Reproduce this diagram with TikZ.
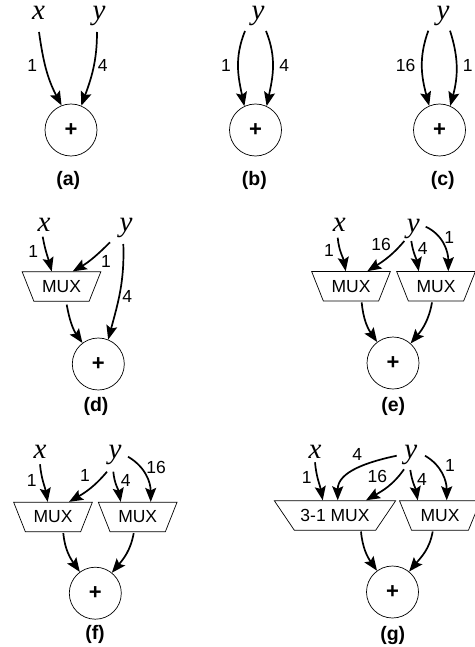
\documentclass[tikz,border=0pt]{standalone}
\usepackage{fontspec}
\setmainfont{Liberation Sans}
\newfontfamily\varfont{Liberation Serif}
\usetikzlibrary{arrows.meta,shapes.geometric}
\tikzset{
  var/.style={inner sep=0pt, text height=16.5pt, text depth=0pt, font=\fontsize{29}{30}\selectfont\varfont\itshape},
  adder/.style={circle, draw, line width=0.7pt, minimum size=52pt, inner sep=0pt, font=\fontsize{22}{24}\selectfont\bfseries},
  mux/.style={trapezium, draw, line width=0.7pt, trapezium stretches=true, shape border rotate=180,
    trapezium angle=56, minimum width=79pt, minimum height=29.5pt, inner ysep=0pt, inner xsep=0pt, font=\fontsize{17.5}{19}\selectfont},
  bigmux/.style={mux, trapezium angle=43.6, minimum width=122pt, inner xsep=-8pt},
  weight/.style={inner sep=0pt, font=\fontsize{17.5}{19}\selectfont},
  caption/.style={inner sep=0pt, font=\fontsize{19.5}{21}\selectfont\bfseries},
  edge/.style={line width=1.7pt, -{Stealth[length=14pt,width=11pt,inset=2.5pt]}}
}
\begin{document}
\begin{tikzpicture}[x=1pt, y=1pt]
  \useasboundingbox (0,0) rectangle (474,-647);

  % Panel a
  \node[var] (xa) at (38.5,-11) {x};
  \node[var] (ya) at (99,-11) {y};
  \node[adder] (adda) at (71,-130) {+};
  \node[weight] (wa1) at (32.3,-65) {1};
  \node[weight] (wa2) at (102.7,-65) {4};
  \node[caption] (capa) at (68.3,-180) {(a)};
  \draw[edge] ([shift={(0.5,-21)}]xa.center) to[out=-82, in=118] (adda.111);
  \draw[edge] ([shift={(-2,-21)}]ya.center) to[out=-90, in=70] (adda.67);

  % Panel b
  \node[var] (yb) at (258,-11) {y};
  \node[adder] (addb) at (255.5,-130) {+};
  \node[weight] (wb1) at (226,-65) {1};
  \node[weight] (wb2) at (284.3,-65) {4};
  \node[caption] (capb) at (254.3,-180) {(b)};
  \draw[edge] ([shift={(-13,-20)}]yb.center) to[out=-112, in=102] (addb.115);
  \draw[edge] ([shift={(8,-20)}]yb.center) to[out=-68, in=78] (addb.65);

  % Panel c
  \node[var] (yc) at (443,-11) {y};
  \node[adder] (addc) at (439.5,-130) {+};
  \node[weight] (wc1) at (405.7,-65) {16};
  \node[weight] (wc2) at (467.7,-65) {1};
  \node[caption] (capc) at (442.7,-180) {(c)};
  \draw[edge] ([shift={(-14.7,-19.7)}]yc.center) to[out=-110, in=105] (addc.113);
  \draw[edge] ([shift={(7,-19.7)}]yc.center) to[out=-72, in=75] (addc.66);

  % Panel d
  \node[var] (xd) at (44,-223) {x};
  \node[var] (yd) at (126,-223) {y};
  \node[mux] (muxd) at (61.5,-286.5) {MUX};
  \node[adder] (addd) at (98.3,-364) {+};
  \node[weight] (wd1) at (33.3,-251.7) {1};
  \node[weight] (wd2) at (106,-261.7) {1};
  \node[weight] (wd3) at (127.3,-296) {4};
  \node[caption] (capd) at (96,-406.7) {(d)};
  \draw[edge] ([shift={(-1.3,-13.7)}]xd.center) to[out=-80, in=105] ([xshift=-9.8pt]muxd.north);
  \draw[edge] ([shift={(-16,-19.3)}]yd.center) to[out=-135, in=30] ([xshift=11.2pt]muxd.north);
  \draw[edge] ([shift={(-2.7,-21)}]yd.center) to[out=-88, in=75] (addd.68);
  \draw[edge] ([shift={(5.2,-3)}]muxd.south) to[out=-80, in=125] (addd.127);

  % Panel e
  \node[var] (xe) at (339.3,-223.3) {x};
  \node[var] (ye) at (413.3,-224) {y};
  \node[mux] (muxe1) at (351,-286.3) {MUX};
  \node[mux] (muxe2) at (436,-286.3) {MUX};
  \node[adder] (adde) at (393,-363) {+};
  \node[weight] (we1) at (329,-250) {1};
  \node[weight] (we2) at (381,-244.3) {16};
  \node[weight] (we3) at (422.7,-248.3) {4};
  \node[weight] (we4) at (449.3,-237.7) {1};
  \node[caption] (cape) at (393.3,-406.7) {(e)};
  \draw[edge] ([shift={(-1.6,-14.4)}]xe.center) to[out=-85, in=100] ([xshift=-5.3pt]muxe1.north);
  \draw[edge] ([shift={(-9,-17)}]ye.center) to[out=-130, in=32] ([xshift=16.3pt]muxe1.north);
  \draw[edge] ([shift={(-2,-17)}]ye.center) to[out=-82, in=100] ([xshift=-17.3pt]muxe2.north);
  \draw[edge] ([shift={(12.4,-2.7)}]ye.center) to[out=-25, in=90] ([xshift=12.3pt]muxe2.north);
  \draw[edge] ([shift={(10.7,-1)}]muxe1.south) to[out=-85, in=125] (adde.127);
  \draw[edge] ([shift={(-4,-1)}]muxe2.south) to[out=-100, in=50] (adde.48);

  % Panel f
  \node[var] (xf) at (40,-450) {x};
  \node[var] (yf) at (115,-450) {y};
  \node[mux] (muxf1) at (53,-517) {MUX};
  \node[mux] (muxf2) at (137.7,-517) {MUX};
  \node[adder] (addf) at (95.3,-593.2) {+};
  \node[weight] (wf1) at (31.7,-480) {1};
  \node[weight] (wf2) at (85,-475.7) {1};
  \node[weight] (wf3) at (125.7,-480) {4};
  \node[weight] (wf4) at (156,-467.3) {16};
  \node[caption] (capf) at (95,-634) {(f)};
  \draw[edge] ([shift={(0,-14.3)}]xf.center) to[out=-85, in=100] ([xshift=-5.3pt]muxf1.north);
  \draw[edge] ([shift={(-8,-21.7)}]yf.center) to[out=-130, in=30] ([xshift=16pt]muxf1.north);
  \draw[edge] ([shift={(-1.7,-21.7)}]yf.center) to[out=-85, in=100] ([xshift=-17pt]muxf2.north);
  \draw[edge] ([shift={(13,-6.7)}]yf.center) to[out=-30, in=90] ([xshift=13pt]muxf2.north);
  \draw[edge] ([shift={(10.3,-1)}]muxf1.south) to[out=-85, in=125] (addf.126);
  \draw[edge] ([shift={(-4,-1)}]muxf2.south) to[out=-100, in=50] (addf.51);

  % Panel g
  \node[var] (xg) at (315,-450) {x};
  \node[var] (yg) at (410.7,-450) {y};
  \node[bigmux] (muxg1) at (335,-515.4) {3-1 MUX};
  \node[mux, minimum width=81.4pt] (muxg2) at (440,-515.4) {MUX};
  \node[adder] (addg) at (392.5,-592) {+};
  \node[weight] (wg1) at (306.7,-477.3) {1};
  \node[weight] (wg2) at (357.3,-454.3) {4};
  \node[weight] (wg3) at (377.3,-476.7) {16};
  \node[weight] (wg4) at (422,-479.3) {4};
  \node[weight] (wg5) at (450,-465) {1};
  \node[caption] (capg) at (392.7,-635) {(g)};
  \draw[edge] ([shift={(0,-12.3)}]xg.center) to[out=-85, in=100] ([xshift=-12.3pt]muxg1.north);
  \draw[edge] ([shift={(-14,-5.7)}]yg.center) to[out=-168, in=90] ([xshift=2.7pt]muxg1.north);
  \draw[edge] ([shift={(-6.7,-19.3)}]yg.center) to[out=-125, in=30] ([xshift=31pt]muxg1.north);
  \draw[edge] ([shift={(-0.4,-20)}]yg.center) to[out=-82, in=100] ([xshift=-22.3pt]muxg2.north);
  \draw[edge] ([shift={(14.3,-5.7)}]yg.center) to[out=-30, in=90] ([xshift=6.7pt]muxg2.north);
  \draw[edge] ([shift={(26,-1)}]muxg1.south) to[out=-85, in=125] (addg.126);
  \draw[edge] ([shift={(-7.3,-1)}]muxg2.south) to[out=-100, in=50] (addg.51);
\end{tikzpicture}
\end{document}
